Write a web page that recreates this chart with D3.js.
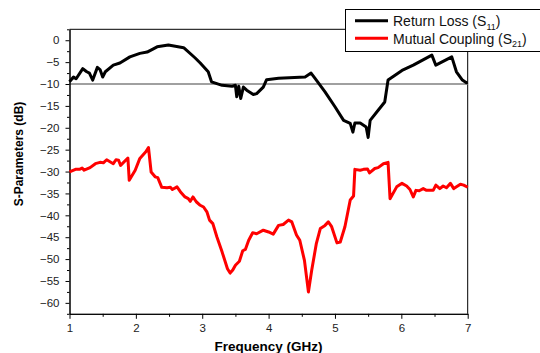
<!DOCTYPE html>
<html>
<head>
<meta charset="utf-8">
<script src="https://cdn.jsdelivr.net/npm/d3@7"></script>
<style>
  body { margin: 0; background: #fff; }
  svg { display: block; font-family: "Liberation Sans", Arial, sans-serif; }
</style>
</head>
<body>
<div id="chart"></div>
<script>
(function () {

// Data
const s11Freq = [1.00, 1.06, 1.10, 1.20, 1.26, 1.30, 1.35, 1.42, 1.46, 1.50, 1.54, 1.66, 1.76, 1.91, 2.06, 2.17, 2.32, 2.49, 2.72, 2.89, 2.97, 3.09, 3.14, 3.30, 3.45, 3.50, 3.52, 3.55, 3.58, 3.62, 3.67, 3.77, 3.82, 3.92, 3.97, 4.15, 4.55, 4.64, 4.70, 4.85, 5.00, 5.13, 5.23, 5.27, 5.30, 5.38, 5.47, 5.50, 5.53, 5.63, 5.75, 5.80, 6.01, 6.18, 6.46, 6.52, 6.76, 6.83, 6.92, 6.98, 7.00];
const s11Val  = [-9.5, -8.4, -8.8, -6.5, -7.2, -7.5, -9.1, -6.2, -6.7, -8.4, -7.2, -5.7, -5.2, -3.8, -3.0, -2.7, -1.5, -1.1, -1.7, -4.0, -5.2, -7.2, -9.5, -10.3, -10.5, -10.3, -12.9, -10.5, -13.3, -10.7, -11.4, -12.4, -12.2, -10.7, -9.0, -8.7, -8.4, -7.5, -8.7, -11.8, -15.2, -18.3, -19.0, -21.0, -18.9, -18.9, -19.8, -22.2, -18.3, -16.4, -14.1, -9.1, -6.9, -5.7, -3.4, -5.7, -3.8, -7.2, -9.1, -9.7, -9.6];

const s21Freq = [1.00, 1.09, 1.15, 1.19, 1.22, 1.31, 1.39, 1.46, 1.51, 1.56, 1.66, 1.70, 1.74, 1.77, 1.88, 1.90, 1.99, 2.06, 2.15, 2.19, 2.23, 2.29, 2.33, 2.39, 2.47, 2.52, 2.55, 2.62, 2.67, 2.74, 2.79, 2.82, 2.86, 2.91, 2.97, 3.02, 3.07, 3.11, 3.16, 3.22, 3.30, 3.38, 3.42, 3.46, 3.50, 3.56, 3.61, 3.65, 3.70, 3.76, 3.82, 3.92, 4.00, 4.07, 4.15, 4.22, 4.30, 4.35, 4.42, 4.47, 4.54, 4.60, 4.65, 4.72, 4.78, 4.85, 4.90, 4.95, 5.03, 5.08, 5.15, 5.23, 5.28, 5.30, 5.38, 5.43, 5.49, 5.52, 5.60, 5.65, 5.73, 5.80, 5.83, 5.93, 6.01, 6.08, 6.13, 6.18, 6.22, 6.27, 6.33, 6.38, 6.48, 6.52, 6.58, 6.63, 6.68, 6.74, 6.79, 6.89, 6.94, 7.00];
const s21Val  = [-30.1, -29.5, -29.5, -29.2, -29.7, -29.1, -28.2, -27.9, -28.0, -27.3, -28.2, -27.3, -27.4, -28.6, -26.9, -32.0, -29.7, -27.0, -25.5, -24.5, -30.1, -31.2, -31.4, -33.6, -33.7, -33.6, -34.1, -33.5, -34.6, -35.8, -36.2, -36.8, -35.8, -36.9, -37.7, -38.1, -39.2, -41.1, -41.9, -44.9, -48.4, -52.2, -53.2, -52.5, -51.4, -50.5, -48.1, -47.8, -45.7, -44.0, -44.2, -43.4, -43.8, -44.3, -42.3, -42.1, -41.1, -41.5, -44.5, -45.7, -50.3, -57.5, -52.5, -46.4, -43.0, -42.3, -41.5, -42.6, -46.3, -46.1, -42.6, -36.5, -35.6, -29.5, -29.7, -29.5, -29.4, -30.3, -29.3, -29.1, -28.2, -27.9, -36.2, -33.5, -32.7, -33.3, -34.1, -35.8, -34.3, -34.4, -33.9, -34.3, -34.3, -33.1, -33.9, -33.3, -33.7, -32.7, -33.9, -32.9, -33.1, -33.6];

const xTicks = [1, 2, 3, 4, 5, 6, 7];
const xMinorTicks = [1.5, 2.5, 3.5, 4.5, 5.5, 6.5];
const yTicks = [0, -5, -10, -15, -20, -25, -30, -35, -40, -45, -50, -55, -60];
const yMinorTicks = [2.5, -2.5, -7.5, -12.5, -17.5, -22.5, -27.5, -32.5, -37.5, -42.5, -47.5, -52.5, -57.5, -62.5];
const refLevel = -10;

const seriesNames = ["Return Loss (S", "Mutual Coupling (S"];
const seriesSubs = ["11", "21"];
const seriesColors = ["#000000", "#ff0000"];

// Layout
const width = 540, height = 353;
const left = 69.5, right = 467.7, top = 29.3, bottom = 313.8;

const svg = d3.select("#chart").append("svg")
    .attr("width", width)
    .attr("height", height);

const x = d3.scaleLinear().domain([1, 7]).range([left, right]);
const y = d3.scaleLinear().domain([2.5, -62.5]).range([top, bottom]);

// Frame (top and right)
svg.append("line")
    .attr("x1", left).attr("x2", right)
    .attr("y1", top).attr("y2", top)
    .attr("stroke", "#000").attr("stroke-width", 1);
svg.append("line")
    .attr("x1", right).attr("x2", right)
    .attr("y1", top).attr("y2", bottom)
    .attr("stroke", "#000").attr("stroke-width", 1);

// Reference line at -10 dB
svg.append("line")
    .attr("x1", left).attr("x2", right)
    .attr("y1", y(refLevel)).attr("y2", y(refLevel))
    .attr("stroke", "#808080").attr("stroke-width", 1.5);

// Axes
svg.append("g")
    .attr("transform", `translate(0, ${bottom})`)
    .call(d3.axisBottom(x).tickValues(xTicks).tickFormat(d3.format("d"))
        .tickSize(5).tickPadding(5).tickSizeOuter(0));
svg.append("g")
    .attr("transform", `translate(0, ${bottom})`)
    .call(d3.axisBottom(x).tickValues(xMinorTicks).tickSize(3).tickFormat("").tickSizeOuter(0));

svg.append("g")
    .attr("transform", `translate(${left}, 0)`)
    .call(d3.axisLeft(y).tickValues(yTicks).tickSize(4).tickPadding(6).tickSizeOuter(0));
svg.append("g")
    .attr("transform", `translate(${left}, 0)`)
    .call(d3.axisLeft(y).tickValues(yMinorTicks).tickSize(2.5).tickFormat("").tickSizeOuter(0));

svg.selectAll(".tick text")
    .style("font-size", "11.5px")
    .style("font-family", "'Liberation Sans', Arial, sans-serif")
    .attr("fill", "#222");
svg.selectAll(".domain, .tick line").attr("stroke", "#000");

// Axis titles
svg.append("text")
    .attr("x", (left + right) / 2)
    .attr("y", 351)
    .attr("text-anchor", "middle")
    .style("font-size", "13.5px")
    .style("font-weight", "bold")
    .text("Frequency (GHz)");

svg.append("text")
    .attr("transform", "translate(23, 154) rotate(-90)")
    .attr("text-anchor", "middle")
    .style("font-size", "12px")
    .style("font-weight", "bold")
    .text("S-Parameters (dB)");

// Lines
const line = d3.line()
    .x(d => x(d[0]))
    .y(d => y(d[1]));

const s11 = s11Freq.map((f, i) => [f, s11Val[i]]);
const s21 = s21Freq.map((f, i) => [f, s21Val[i]]);

svg.append("path")
    .datum(s21)
    .attr("fill", "none")
    .attr("stroke", seriesColors[1])
    .attr("stroke-width", 3)
    .attr("stroke-linejoin", "round")
    .attr("d", line);

svg.append("path")
    .datum(s11)
    .attr("fill", "none")
    .attr("stroke", seriesColors[0])
    .attr("stroke-width", 3)
    .attr("stroke-linejoin", "round")
    .attr("d", line);

// Legend
const legend = svg.append("g");
legend.append("rect")
    .attr("x", 345.5).attr("y", 9.5)
    .attr("width", 200).attr("height", 42)
    .attr("fill", "#fff")
    .attr("stroke", "#000").attr("stroke-width", 1);

seriesNames.forEach((name, i) => {
    const ly = 20.7 + i * 17.6;
    legend.append("line")
        .attr("x1", 355).attr("x2", 388)
        .attr("y1", ly).attr("y2", ly)
        .attr("stroke", seriesColors[i])
        .attr("stroke-width", 3);
    const t = legend.append("text")
        .attr("x", 393)
        .attr("y", ly + 5.3)
        .style("font-size", "14px")
        .attr("fill", "#111");
    t.append("tspan").text(name);
    t.append("tspan")
        .attr("dy", 3.5)
        .style("font-size", "9px")
        .text(seriesSubs[i]);
    t.append("tspan")
        .attr("dy", -3.5)
        .text(")");
});

})();
</script>
</body>
</html>
